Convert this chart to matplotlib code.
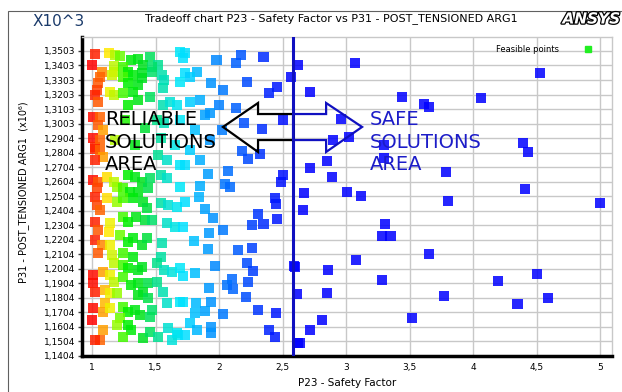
import numpy as np
import matplotlib
matplotlib.use("Agg")
import matplotlib.pyplot as plt
from matplotlib.colors import LinearSegmentedColormap, Normalize
from matplotlib.patches import Polygon, Rectangle
from matplotlib.lines import Line2D
import matplotlib.patheffects as pe

# P23 - Safety Factor
sf = [
    1.02, 1.13, 1.18, 1.22, 1.31, 1.36, 1.46, 1.52, 1.00, 1.08, 1.17, 1.17, 1.24, 1.28, 1.40, 1.47,
    1.06, 1.05, 1.04, 1.16, 1.24, 1.32, 1.39, 1.47, 1.55, 1.57, 1.69, 1.72, 1.73, 1.69, 1.28, 1.36,
    1.39, 1.56, 1.14, 1.17, 1.02, 1.05, 1.24, 1.32, 1.36, 1.46, 1.56, 1.61, 1.67, 1.28, 1.01, 1.06,
    1.05, 1.09, 1.57, 1.51, 1.01, 1.02, 1.06, 1.26, 1.42, 1.54, 1.34, 1.18, 1.69, 1.65, 1.81, 1.89,
    1.77, 1.93, 1.85,
    1.02, 1.06, 1.09, 1.02, 1.52, 1.59, 1.69, 1.01, 1.05, 1.04, 1.12, 1.17, 1.20, 1.28, 1.34, 1.39,
    1.46, 1.54, 1.59, 1.24, 1.30, 1.36, 1.44, 1.69, 1.02, 1.04, 1.06, 1.12, 1.20, 1.24, 1.32, 1.40,
    1.43, 1.54, 1.60, 1.67, 1.02, 1.05, 1.14, 1.13, 1.24, 1.28, 1.35, 1.42, 1.47, 1.59, 1.65, 1.02,
    1.08, 1.22, 1.28, 1.32, 1.39, 1.43, 1.55, 1.14,
    1.05, 1.16, 1.24, 1.32, 1.54, 1.51, 1.17, 1.24, 1.28, 1.01, 1.09, 1.14, 1.36, 1.39, 1.57, 1.63,
    1.69, 1.17, 1.24, 1.01, 1.02, 1.31, 1.36, 1.44, 1.51, 1.10, 1.14, 1.20, 1.36, 1.40, 1.44, 1.56,
    1.59, 1.69, 1.01, 1.00, 1.10, 1.09, 1.14, 1.24, 1.28, 1.34, 1.38, 1.47, 1.46, 1.22, 1.20, 1.28,
    1.31, 1.40, 1.46, 1.52, 1.09, 1.06, 1.02, 1.24, 1.60, 1.68, 1.63, 1.67,
    1.73, 1.98, 2.13, 2.17, 2.35, 2.57, 2.62, 2.22, 2.03, 1.94, 2.46, 2.39, 1.83, 1.77, 1.85, 1.77,
    2.00, 2.13, 2.20, 2.34, 2.50, 1.93, 2.02,
    2.18, 2.23, 2.32, 2.07, 1.91, 2.05, 2.09, 2.50, 2.49, 1.85, 1.84, 2.44, 2.45, 1.89, 1.95, 2.31,
    2.26, 2.35, 2.46, 2.03, 1.92, 1.80, 2.26, 2.15, 1.91, 1.73, 1.72, 1.73,
    1.97, 1.81, 1.72, 2.22, 2.27, 2.10, 2.06, 2.11, 2.23, 1.92, 2.21, 1.94, 1.82, 1.72, 1.89, 1.81,
    2.03, 2.31, 2.45, 1.77, 1.83, 1.94, 1.94, 1.73, 2.39, 2.44, 2.60, 2.61, 2.62,
    3.07, 4.53, 2.72, 3.44, 4.06, 3.61, 3.65, 2.96, 3.02, 2.90, 3.30, 4.39, 4.43, 3.30, 2.72, 2.85,
    2.89, 3.79, 4.41, 3.01, 3.12, 5.00, 3.80, 2.67, 2.66, 3.31, 3.28, 3.35, 3.65, 2.59, 2.86, 3.08,
    4.20, 4.50, 3.28, 2.85, 3.77, 4.59, 4.35, 2.81, 3.52, 2.72, 2.64,
]

# P31 - POST_TENSIONED ARG1
arg1 = [
    1.3482, 1.3489, 1.3475, 1.3469, 1.3441, 1.3448, 1.3462, 1.3407, 1.3407, 1.3359, 1.3400, 1.3359, 1.3393, 1.3359, 1.3407, 1.3393,
    1.3324, 1.3283, 1.3235, 1.3338, 1.3324, 1.3338, 1.3352, 1.3359, 1.3338, 1.3303, 1.3496, 1.3455, 1.3352, 1.3290, 1.3283, 1.3269,
    1.3317, 1.3248, 1.3221, 1.3200, 1.3200, 1.3152, 1.3214, 1.3221, 1.3166, 1.3186, 1.3131, 1.3152, 1.3131, 1.3131, 1.3049, 1.3049,
    1.2994, 1.2959, 1.3008, 1.3028, 1.2904, 1.2842, 1.2891, 1.3028, 1.2973, 1.2905, 1.2856, 1.2891, 1.3028, 1.2856, 1.2959, 1.3063,
    1.2822, 1.2891, 1.2753,
    1.2829, 1.2822, 1.2774, 1.2753, 1.2787, 1.2753, 1.2719, 1.2615, 1.2601, 1.2560, 1.2636, 1.2601, 1.2567, 1.2650, 1.2636, 1.2601,
    1.2629, 1.2650, 1.2629, 1.2560, 1.2533, 1.2533, 1.2560, 1.2567, 1.2498, 1.2443, 1.2409, 1.2491, 1.2464, 1.2491, 1.2491, 1.2464,
    1.2423, 1.2457, 1.2443, 1.2430, 1.2327, 1.2271, 1.2320, 1.2258, 1.2361, 1.2327, 1.2361, 1.2340, 1.2340, 1.2320, 1.2292, 1.2202,
    1.2168, 1.2237, 1.2189, 1.2216, 1.2168, 1.2216, 1.2182, 1.2168,
    1.2113, 1.2099, 1.2113, 1.2086, 1.2086, 1.2044, 1.2044, 1.2030, 1.2010, 1.1962, 1.1983, 1.1962, 1.1996, 1.2017, 1.1996, 1.1983,
    1.2010, 1.1914, 1.1948, 1.1907, 1.1845, 1.1893, 1.1907, 1.1907, 1.1914, 1.1858, 1.1838, 1.1838, 1.1824, 1.1845, 1.1803, 1.1845,
    1.1769, 1.1776, 1.1735, 1.1652, 1.1769, 1.1707, 1.1735, 1.1741, 1.1707, 1.1721, 1.1686, 1.1721, 1.1673, 1.1666, 1.1618, 1.1618,
    1.1583, 1.1528, 1.1569, 1.1535, 1.1583, 1.1514, 1.1514, 1.1535, 1.1597, 1.1549, 1.1514, 1.1563,
    1.3489, 1.3441, 1.3420, 1.3475, 1.3462, 1.3324, 1.3407, 1.3290, 1.3235, 1.3283, 1.3255, 1.3214, 1.3359, 1.3324, 1.3166, 1.3152,
    1.3131, 1.3111, 1.3008, 1.2967, 1.3028, 1.3076, 1.2959,
    1.2815, 1.2760, 1.2794, 1.2677, 1.2657, 1.2588, 1.2567, 1.2650, 1.2601, 1.2574, 1.2498, 1.2491, 1.2450, 1.2416, 1.2354, 1.2382,
    1.2306, 1.2313, 1.2347, 1.2271, 1.2251, 1.2196, 1.2148, 1.2134, 1.2141, 1.2464, 1.2292, 1.2719,
    1.2024, 1.1976, 1.1955, 1.2044, 1.1990, 1.1934, 1.1893, 1.1865, 1.1914, 1.1872, 1.1810, 1.1776, 1.1769, 1.1776, 1.1714, 1.1700,
    1.1693, 1.1721, 1.1700, 1.1631, 1.1583, 1.1604, 1.1563, 1.1549, 1.1583, 1.1535, 1.2017, 1.1831, 1.1494,
    1.3420, 1.3352, 1.3221, 1.3186, 1.3180, 1.3138, 1.3118, 1.3035, 1.2911, 1.2891, 1.2856, 1.2870, 1.2808, 1.2767, 1.2698, 1.2746,
    1.2636, 1.2670, 1.2554, 1.2533, 1.2505, 1.2457, 1.2471, 1.2526, 1.2409, 1.2313, 1.2230, 1.2230, 1.2106, 1.2024, 1.1996, 1.2065,
    1.1920, 1.1969, 1.1927, 1.1838, 1.1817, 1.1803, 1.1762, 1.1652, 1.1666, 1.1583, 1.1494,
]

x_ticks = [1, 1.5, 2, 2.5, 3, 3.5, 4, 4.5, 5]
x_ticklabels = ["1", "1,5", "2", "2,5", "3", "3,5", "4", "4,5", "5"]
y_ticklabels = ["1,1404", "1,1504", "1,1604", "1,1704", "1,1804", "1,1904", "1,2004", "1,2104",
                "1,2204", "1,2304", "1,2404", "1,2504", "1,2604", "1,2704", "1,2804", "1,2904",
                "1,3003", "1,3103", "1,3203", "1,3303", "1,3403", "1,3503"]
y_ticks = [float(t.replace(",", ".")) for t in y_ticklabels]
safe_limit = 2.58

# red -> yellow -> green -> cyan -> blue along the safety factor
cmap = LinearSegmentedColormap.from_list("sf", [
    (0.0, "#ff0000"), (0.04, "#ff7000"), (0.08, "#ffee00"), (0.13, "#80ff00"),
    (0.17, "#00f000"), (0.25, "#00e020"), (0.31, "#00e080"), (0.375, "#00e0d0"),
    (0.44, "#00e8ff"), (0.53, "#00b0ff"), (0.625, "#0080ff"), (0.75, "#0050ff"),
    (0.875, "#0020ff"), (1.0, "#0000ff")])
norm = Normalize(vmin=1.0, vmax=2.6)

fig = plt.figure(figsize=(6.22, 3.92), dpi=100)
ax = fig.add_axes([82 / 622, 36 / 392, 530 / 622, 319 / 392])

ax.scatter(sf, arg1, c=sf, cmap=cmap, norm=norm, marker="s", s=52,
           linewidths=0, alpha=0.85, zorder=3)
ax.axvline(safe_limit, color="#1010c0", lw=2.2, zorder=4)

ax.set_xlim(0.921, 5.094)
ax.set_ylim(1.1404, 1.3599)
ax.set_xticks(x_ticks)
ax.set_xticklabels(x_ticklabels, fontsize=6.5)
ax.set_yticks(y_ticks)
ax.set_yticklabels(y_ticklabels, fontsize=6.5)
ax.tick_params(axis="y", length=3, width=1, color="#404040", pad=2)
ax.tick_params(axis="x", length=0, pad=5)
ax.grid(True, color="#c8c8c8", lw=1, zorder=0)
ax.set_axisbelow(True)
for s in ["left", "bottom"]:
    ax.spines[s].set_linewidth(2.5)
    ax.spines[s].set_color("black")
for s in ["top", "right"]:
    ax.spines[s].set_linewidth(1)
    ax.spines[s].set_color("#c8c8c8")

ax.set_xlabel("P23 - Safety Factor", fontsize=7.5, labelpad=4)
fig.text(24 / 622, 1 - 192 / 392, "P31 - POST_TENSIONED ARG1  (x10\u2076)",
         rotation=90, fontsize=7, ha="center", va="center")

# arrows marking the two regions
left_arrow = Polygon([(2.031, 1.2980), (2.307, 1.3145), (2.307, 1.3069), (2.583, 1.3069),
                      (2.583, 1.2890), (2.307, 1.2890), (2.307, 1.2808)],
                     closed=True, fill=False, edgecolor="black", lw=1.6, zorder=6)
right_arrow = Polygon([(3.126, 1.2980), (2.843, 1.3145), (2.843, 1.3069), (2.583, 1.3069),
                       (2.583, 1.2890), (2.843, 1.2890), (2.843, 1.2808)],
                      closed=True, fill=False, edgecolor="#1010c0", lw=1.6, zorder=6)
ax.add_patch(left_arrow)
ax.add_patch(right_arrow)
ax.text(1.10, 1.3095, "RELIABLE\nSOLUTIONS\nAREA", fontsize=14, color="black",
        va="top", ha="left", linespacing=1.22, zorder=7)
ax.text(3.19, 1.3095, "SAFE\nSOLUTIONS\nAREA", fontsize=14, color="#1c1cc8",
        va="top", ha="left", linespacing=1.22, zorder=7)

handle = Line2D([], [], marker="s", color="#22ee22", linestyle="", markersize=5)
ax.legend([handle], ["Feasible points"], loc="upper right", frameon=False,
          markerfirst=False, fontsize=6, bbox_to_anchor=(0.985, 1.0),
          handletextpad=2.5)

fig.text(0.5 * (125 + 538) / 622, 1 - 19 / 392,
         "Tradeoff chart P23 - Safety Factor vs P31 - POST_TENSIONED ARG1",
         fontsize=8, ha="center", va="center")
fig.text(33 / 622, 1 - 21 / 392, "X10^3", fontsize=11, color="#1a3a6a",
         ha="left", va="center")
fig.text(620 / 622, 1 - 19 / 392, "ANSYS", fontsize=11, fontweight="bold",
         fontstyle="italic", color="white", ha="right", va="center",
         path_effects=[pe.withStroke(linewidth=1.8, foreground="black")])

fig.add_artist(Rectangle((8 / 622, -0.02), 1.0, 1 - 11 / 392 + 0.02,
                         transform=fig.transFigure, fill=False,
                         edgecolor="#606060", lw=0.8))

fig.savefig("out.png", dpi=100)
